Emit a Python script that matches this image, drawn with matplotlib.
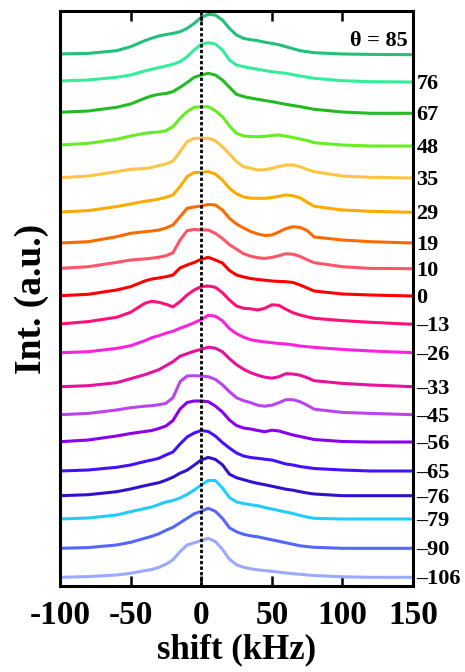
import matplotlib
matplotlib.use("Agg")
import matplotlib.pyplot as plt

# ---- data ----
shift = [-100, -80, -60, -50, -40, -35, -30, -25, -20, -15, -10, -5, 0, 5, 10, 15,
         20, 25, 30, 35, 40, 45, 50, 55, 60, 65, 70, 75, 80, 100, 120, 150]

angles = ["85", "76", "67", "48", "35", "29", "19", "10", "0", "\u201313", "\u201326",
          "\u201333", "\u201345", "\u201356", "\u201365", "\u201376", "\u201379",
          "\u201390", "\u2013106"]

# vertical offsets of each trace (arbitrary intensity units)
offsets = [531.3, 504, 472.7, 440, 408, 373.7, 343, 317.3, 290, 261.7, 233.3,
           199.3, 171.3, 144, 115, 90.3, 67, 37.7, 8.7]

i85 = [0.7, 1.3, 4, 8, 14, 16.5, 18.7, 20.2, 21.3, 23, 26.3, 31.3, 37.3, 40.3, 39.7, 34.7, 26.3, 19.7, 16.3, 15, 14, 12.5, 11.3, 10, 8, 6, 4, 3, 2, 0.7, 0.3, 0]
i76 = [1, 2, 4.7, 7, 11, 12.8, 14.3, 16, 17.7, 20.3, 25.3, 32, 37.7, 39.3, 38, 32, 22, 17, 15.3, 14, 12.7, 11.5, 10.3, 9.5, 8.7, 7.3, 6, 4.8, 3.7, 1.3, 0.3, 0]
i67 = [1, 2.3, 6, 9.3, 15, 17.5, 19, 19.8, 21.7, 26, 30.7, 36, 38.3, 40, 38.3, 33.3, 26, 19, 16.7, 15.3, 14, 12.8, 11.7, 10.3, 9, 7.8, 6.7, 5.3, 4, 1.3, 0, 0]
i48 = [1, 2.7, 6.7, 10, 12.7, 13.5, 14, 15.3, 19.3, 27.7, 34.3, 38.7, 39.3, 39.3, 35.3, 29.3, 20, 12.7, 10, 9.5, 9.3, 9.7, 10.5, 11, 9.8, 8.5, 7, 5.5, 3.3, 1, 0, 0]
i35 = [0.3, 2, 6.3, 8.7, 9.5, 10.5, 12.5, 14, 17, 26.3, 36.3, 39.7, 39.7, 39.7, 37.3, 31.3, 24, 16.3, 11.3, 9.7, 8, 8.3, 9.7, 11.5, 13, 13, 11.3, 8.5, 6.3, 2, 0.7, 0]
i29 = [0.3, 1.7, 5.7, 8.3, 11, 12, 13.3, 15, 17.3, 25.7, 35.7, 39.7, 40, 40.7, 38.3, 32.3, 24, 18.5, 15.3, 14.2, 14, 14, 14.7, 16, 17.3, 16.5, 14.5, 10, 6, 2.3, 1, 0]
i19 = [0, 1.3, 6.3, 9.7, 11.3, 12, 13, 15, 18, 26.3, 34.7, 36, 37, 38.5, 38, 33, 24.7, 19, 15, 11.5, 9, 7.5, 8, 11, 14.5, 16.3, 15.5, 12.5, 6, 3, 1.3, 0]
i10 = [0.3, 2, 6.3, 8.7, 9.8, 10.5, 11.5, 13, 16, 28.7, 38, 39.3, 38.7, 38.7, 35.3, 30.3, 24, 19.5, 15, 12.5, 11, 10.3, 11.3, 13, 15, 14.5, 12.3, 9, 6, 2, 0.3, 0]
i0 = [0.3, 1.7, 6, 9.3, 15, 17, 18, 19.3, 21, 28, 31, 33.5, 36.7, 38.7, 36, 33, 25.5, 21, 19, 17.5, 16.5, 15.8, 15, 14.6, 14.3, 13.5, 11, 8, 5, 2, 1, 0]
in13 = [0.3, 2.7, 7, 12, 21, 23, 22, 20, 17.5, 22.7, 29.3, 34.3, 37.7, 38.3, 37, 31.7, 24.3, 18.3, 16, 15.5, 14.3, 16, 19.5, 19, 15, 11.5, 9.3, 7.5, 6, 3.7, 2, 0]
in26 = [0, 1, 4.3, 7, 12, 15, 17, 19.5, 21.5, 24.5, 27, 30, 33, 37.5, 36.5, 32, 24, 19, 15.5, 13, 11.7, 10.8, 10, 9.2, 8.7, 7.8, 6.7, 6, 5.3, 3.3, 1.7, 0]
in33 = [0, 1, 4, 8, 12, 14.5, 17, 21, 25, 30.5, 33, 35.5, 37.3, 39.5, 38.5, 35, 28, 22, 17.5, 14, 11.5, 9.5, 8.5, 10, 13, 12.7, 11.5, 9, 6, 3.3, 1.7, 0]
in45 = [0, 1.3, 4.7, 7, 8.5, 9, 10, 11.3, 17, 33, 38.7, 39, 38.7, 38, 35.3, 30, 23, 17, 14, 12, 9.5, 8.5, 9.5, 12, 15, 15, 13, 9.5, 5.5, 2.3, 1.3, 0]
in56 = [0.3, 2, 6, 8.5, 10.5, 11.5, 13.5, 16, 21.5, 33, 39.5, 41, 41, 40.3, 36, 30, 22, 16.5, 14, 13, 11.5, 10.3, 11.8, 11, 9, 7, 5.5, 4, 2.5, 0.5, 0, 0]
in65 = [0, 1, 3.7, 6, 9.5, 11, 12.7, 16, 19, 27, 34, 38, 40.5, 39.5, 35, 28.5, 23, 18, 15, 13.5, 12.7, 11.8, 11, 9, 7, 6, 4.5, 3.5, 2.5, 1, 0, 0]
in76 = [0, 1, 4, 6.7, 10, 11.5, 13, 15.5, 18.5, 22.5, 25.5, 30.5, 35.7, 38.3, 36.3, 31, 21.5, 18, 16, 14, 12.3, 11, 9.5, 8, 6.5, 5.5, 4, 2.7, 1.7, 0, 0, 0]
in79 = [0, 1, 4, 7.3, 10.5, 12, 14.5, 17, 18.5, 21, 24.5, 29, 34, 38.5, 38.5, 31, 21.5, 17, 15.5, 14.3, 13.3, 11.5, 10, 8.5, 7, 5.5, 3.5, 2, 0.7, 0, 0, 0]
in90 = [0, 0.7, 3.3, 6, 10, 12, 14.5, 18, 21, 25.5, 30, 34.5, 37, 40, 37, 30, 20.5, 16.5, 14, 12.5, 11.5, 10, 8.5, 7, 5.5, 4, 2.5, 1.7, 1, 0, 0, 0]
in106 = [0, 0.7, 2.3, 4, 6.7, 7.8, 10, 13, 17.5, 25.7, 32.3, 34.5, 36.7, 39, 35.7, 28, 18, 12.5, 10, 8.5, 7.5, 6.8, 6, 5.2, 4.3, 3.6, 3, 2.4, 1.8, 0.5, 0, 0]

spectra = [i85, i76, i67, i48, i35, i29, i19, i10, i0, in13, in26, in33, in45,
           in56, in65, in76, in79, in90, in106]

colors = ["#22C07A", "#33EE99", "#22BB22", "#66EE22", "#FFC444", "#FFAA00",
          "#FF6A00", "#FF5566", "#FF0000", "#FF1177", "#FF22DD", "#E8119A",
          "#BB44EE", "#8A00EE", "#4411FF", "#3311CC", "#22CCFF", "#5566FF",
          "#99AAFF"]

xticks = [-100, -50, 0, 50, 100, 150]
xticklabels = ["-100", "-50", "0", "50", "100", "150"]

# ---- figure ----
plt.rcParams['font.family'] = ['Liberation Serif', 'DejaVu Serif']
plt.rcParams['font.weight'] = 'bold'

fig = plt.figure(figsize=(4.65, 6.72), dpi=100)
ax = fig.add_axes([60/465, 1-586/672, 353/465, 575/672])

for spec, off, col in zip(spectra, offsets, colors):
    ax.plot(shift, [v + off for v in spec], color=col, lw=2.2,
            solid_joinstyle='round', solid_capstyle='round', zorder=2)

ax.axvline(0, color='black', ls=(0, (1.2, 0.8)), lw=2.0, zorder=5)

ax.set_xlim(-100, 150)
ax.set_ylim(0, 575)

ax.set_xticks(xticks)
ax.set_xticklabels(xticklabels, fontsize=24, fontweight='bold')
ax.tick_params(axis='x', direction='in', length=7, width=1.8, top=True,
               bottom=True, pad=10)
ax.set_yticks([])
for s in ax.spines.values():
    s.set_linewidth(2.2)

ax.set_xlabel("shift (kHz)", fontsize=25, fontweight='bold', labelpad=2)
ax.set_ylabel("Int. (a.u.)", fontsize=27, fontweight='bold', labelpad=8)

# angle labels on the right
for lab, off in zip(angles[1:], offsets[1:]):
    ax.text(1.01, off - 2, lab, transform=ax.get_yaxis_transform(),
            ha='left', va='center', fontsize=16, fontweight='bold',
            clip_on=False)
ax.text(0.985, offsets[0] + 14, "\u03b8 = " + angles[0],
        transform=ax.get_yaxis_transform(), ha='right', va='center',
        fontsize=16, fontweight='bold')

fig.savefig("out.png", dpi=100)
